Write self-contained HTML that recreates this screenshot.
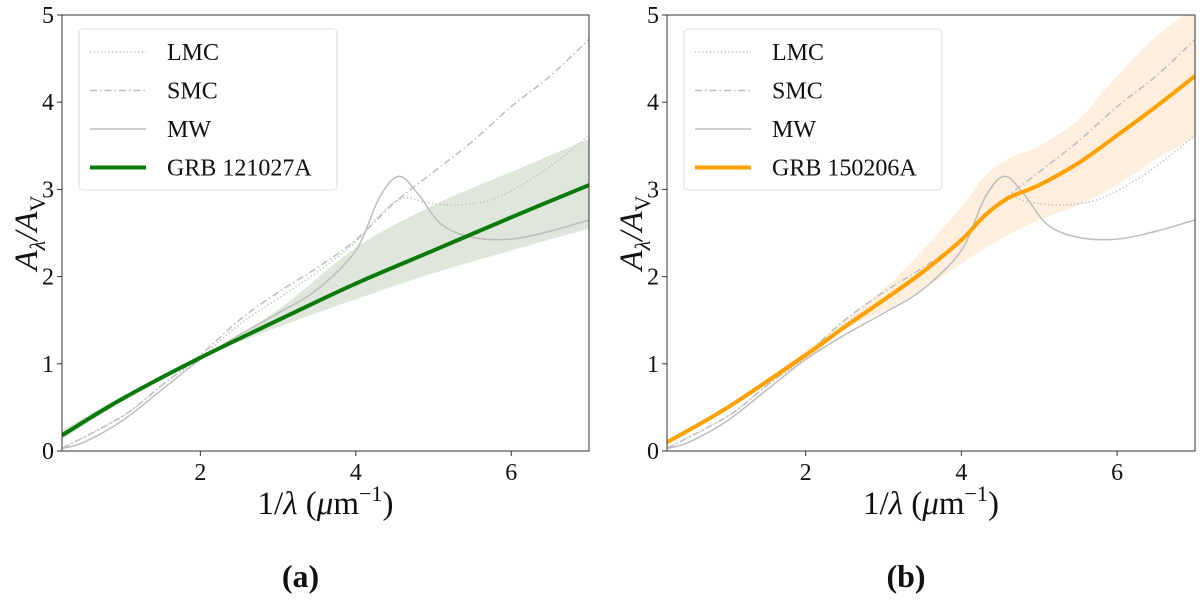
<!DOCTYPE html>
<html><head><meta charset="utf-8"><style>
body{margin:0;background:#fff;width:1200px;height:599px;overflow:hidden}
svg text{font-family:"Liberation Serif",serif;fill:#111}
</style></head><body>
<svg id="s" width="1200" height="599"></svg>
<script>
const mwX=[0.22,0.5,1,1.5,2,2.5,3,3.5,4,4.3,4.55,4.8,5.1,5.5,6,6.5,7];
const mwY=[0.03,0.1,0.35,0.7,1.05,1.33,1.58,1.85,2.3,2.9,3.15,2.95,2.6,2.45,2.43,2.52,2.65];
const lmcX=[0.22,1,1.5,2,2.5,3,3.5,4,4.3,4.6,4.9,5.3,5.8,6.4,7];
const lmcY=[0.03,0.4,0.75,1.07,1.45,1.75,2.05,2.4,2.7,2.9,2.85,2.82,2.9,3.2,3.62];
const smcX=[0.22,1,1.5,2,2.5,3,3.5,4,4.5,5,5.5,6,6.5,7];
const smcY=[0.03,0.4,0.75,1.1,1.5,1.82,2.1,2.42,2.85,3.2,3.55,3.95,4.3,4.72];
const aX=[0.22,1,2,3,4,5,6,7];
const aY=[0.18,0.6,1.07,1.5,1.92,2.3,2.68,3.05];
const aLo=[0.13,0.57,1.06,1.42,1.74,2.04,2.3,2.55];
const aHi=[0.24,0.63,1.08,1.62,2.33,2.82,3.2,3.58];
const bX=[0.22,1,2,2.5,3,3.5,4,4.3,4.6,5,5.5,6,6.5,7];
const bY=[0.1,0.5,1.1,1.42,1.73,2.05,2.42,2.7,2.9,3.05,3.3,3.62,3.95,4.3];
const bLo=[0.09,0.49,1.05,1.4,1.6,1.85,2.15,2.32,2.48,2.65,2.82,3.05,3.35,3.6];
const bHi=[0.11,0.51,1.15,1.5,1.85,2.3,2.8,3.15,3.35,3.5,3.8,4.3,4.75,5.1];
const yTicks=[0,1,2,3,4,5], xTicks=[2,4,6];
const NS="http://www.w3.org/2000/svg", svg=document.getElementById('s');
function el(t,a,p){const e=document.createElementNS(NS,t);for(const k in a)e.setAttribute(k,a[k]);(p||svg).appendChild(e);return e;}
function smooth(pts){let d=`M${pts[0][0]},${pts[0][1]}`;for(let i=0;i<pts.length-1;i++){const p0=pts[i-1]||pts[i],p1=pts[i],p2=pts[i+1],p3=pts[i+2]||p2;
d+=`C${p1[0]+(p2[0]-p0[0])/6},${p1[1]+(p2[1]-p0[1])/6} ${p2[0]-(p3[0]-p1[0])/6},${p2[1]-(p3[1]-p1[1])/6} ${p2[0]},${p2[1]}`;}return d;}
function panel(ox,x1,col,fill,name,X,Y,Lo,Hi,lbl,id){
 const L=ox,R=x1,T=15,B=451,xmin=0.22,xmax=7;
 const sx=v=>L+(v-xmin)/(xmax-xmin)*(R-L), sy=v=>B-v/5*(B-T);
 const g=el('g',{});
 const cp=el('clipPath',{id:'c'+id},g);el('rect',{x:L,y:T,width:R-L,height:B-T},cp);
 const pg=el('g',{'clip-path':`url(#c${id})`},g);
 const up=X.map((x,i)=>[sx(x),sy(Hi[i])]),lo=X.map((x,i)=>[sx(x),sy(Lo[i])]).reverse();
 const band=el('path',{d:smooth(up)+smooth(lo).replace('M','L')+'Z',fill:fill},pg);
 
 const ref=[[lmcX,lmcY,'1.2 2.5','lmc-curve'],[smcX,smcY,'7 3 1.5 3','smc-curve'],[mwX,mwY,'','mw-curve']];
 ref.forEach(r=>{const p=el('path',{d:smooth(r[0].map((x,i)=>[sx(x),sy(r[1][i])])),fill:'none',stroke:'#bdbdbd','stroke-width':1.5,'stroke-dasharray':r[2]},pg);
  });
 const m=el('path',{d:smooth(X.map((x,i)=>[sx(x),sy(Y[i])])),fill:'none',stroke:col,'stroke-width':4},pg);
 
 el('rect',{x:L,y:T,width:R-L,height:B-T,fill:'none',stroke:'#333','stroke-width':1},g);
 yTicks.forEach(v=>{el('line',{x1:L-5,x2:L,y1:sy(v),y2:sy(v),stroke:'#333'},g);
  const t=el('text',{x:L-8,y:sy(v)+8,'text-anchor':'end','font-size':24},g);t.textContent=v;
  });
 xTicks.forEach(v=>{el('line',{x1:sx(v),x2:sx(v),y1:B,y2:B+5,stroke:'#333'},g);
  const t=el('text',{x:sx(v),y:B+29,'text-anchor':'middle','font-size':24},g);t.textContent=v;
  });
 const xl=el('text',{x:(L+R)/2,y:B+63,'text-anchor':'middle','font-size':33},g);
 xl.innerHTML='1/<tspan font-style="italic">λ</tspan> (<tspan font-style="italic">μ</tspan>m<tspan dy="-13" font-size="22">−1</tspan><tspan dy="13">)</tspan>';
 
 const yl=el('text',{transform:`translate(${L-25},${(T+B)/2}) rotate(-90)`,'text-anchor':'middle','font-size':33,'font-style':'italic'},g);
 yl.innerHTML='A<tspan dy="8" font-size="22">λ</tspan><tspan dy="-8">/A</tspan><tspan dy="8" font-size="22" font-style="normal">V</tspan>';
 
 const lg=el('g',{},g);
 el('rect',{x:L+17,y:29,width:258,height:161,rx:4,fill:'#fff','fill-opacity':0.85,stroke:'#ddd'},lg);
 const ents=[['LMC','#bdbdbd','1.2 2.5',1.5],['SMC','#bdbdbd','7 3 1.5 3',1.5],['MW','#bdbdbd','',1.5],[name,col,'',4]];
 ents.forEach((e,i)=>{const y=52+i*38.5;
  el('line',{x1:L+28,x2:L+84,y1:y,y2:y,stroke:e[1],'stroke-width':e[3],'stroke-dasharray':e[2]},lg);
  const t=el('text',{x:L+105,y:y+8,'font-size':24},lg);t.textContent=e[0];
  });
 const c=el('text',{x:(L+R)/2-25,y:587,'text-anchor':'middle','font-size':32,'font-weight':'bold'},g);c.textContent=lbl;
 
}
panel(62,589,'#0a7a0a','#dfe6dc','GRB 121027A',aX,aY,aLo,aHi,'(a)','a');
panel(667,1195,'#ffa100','#fdeedd','GRB 150206A',bX,bY,bLo,bHi,'(b)','b');
</script>
</body></html>
